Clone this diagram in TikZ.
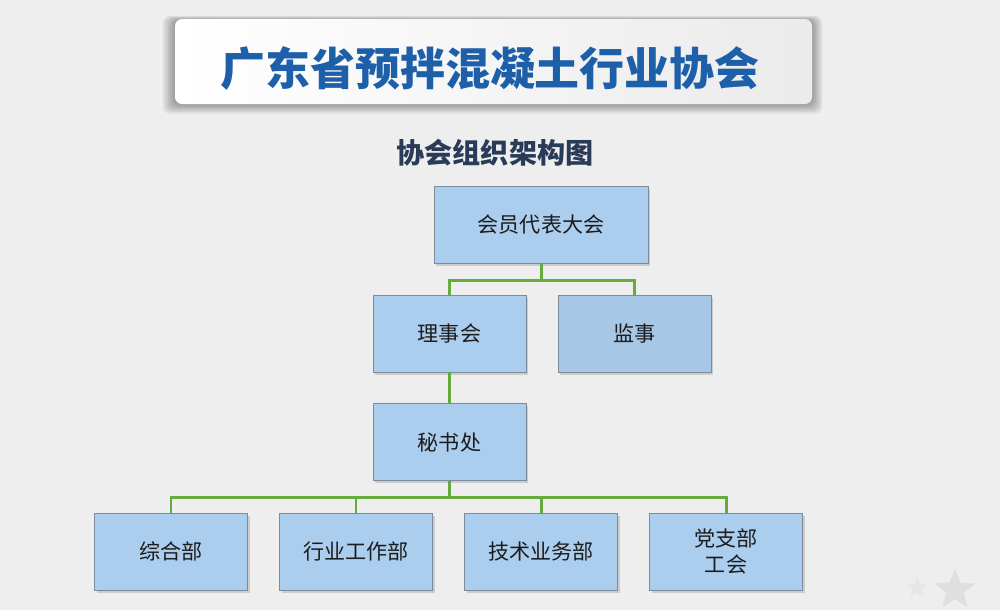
\documentclass[tikz,border=0pt]{standalone}
\usepackage{fontspec}
\newfontfamily\cjk{Noto Sans CJK SC}
\usetikzlibrary{positioning,shadows,shapes.geometric}
\definecolor{orgBg}{HTML}{EEEEEE}
\definecolor{orgBlue}{HTML}{1E5FAA}
\definecolor{orgSlate}{HTML}{2A3B57}
\definecolor{orgBox}{HTML}{ABCDEE}
\definecolor{orgBoxDim}{HTML}{A7C7E7}
\definecolor{orgEdge}{HTML}{7D8A99}
\definecolor{orgGreen}{HTML}{67AB3E}
\definecolor{orgInk}{HTML}{1C1C1C}
\tikzset{
  unit/.style     ={draw=orgEdge,line width=0.5pt,fill=orgBox,text=orgInk,
                    font=\cjk\fontsize{12}{15}\selectfont,align=center,
                    drop shadow={shadow xshift=1.2pt,shadow yshift=-1.5pt,opacity=0.3}},
  topunit/.style  ={unit,minimum width=4.28cm,minimum height=1.54cm},
  subunit/.style  ={unit,minimum width=3.06cm,minimum height=1.54cm},
  link/.style     ={orgGreen,line width=1.7pt},
  banner/.style   ={rounded corners=4pt},
  ttl/.style      ={font=\cjk\bfseries\fontsize{25.6}{30}\selectfont,text=orgBlue},
  subttl/.style   ={font=\cjk\bfseries\fontsize{16}{20}\selectfont,text=orgSlate},
  deco/.style     ={star,star points=5,star point ratio=2.3,fill=gray!30,
                    opacity=0.7,inner sep=0pt},
}

\begin{document}
\begin{tikzpicture}[x=0.02cm,y=-0.02cm]
\useasboundingbox (0,0) rectangle (1000,610);
\fill[orgBg] (0,0) rectangle (1000,610);

% title banner
\foreach \k in {1,...,5}
  \fill[banner,black,opacity=0.07] (175-\k*2.4,20-\k*0.8) rectangle (812+\k*2,104+\k*1.9);
\shade[banner,left color=white,right color=gray!16] (175,19) rectangle (812,104);
\node[ttl] (title) at (490,68) {广东省预拌混凝土行业协会};
\node[subttl] (subttl) at (495,153) {协会组织架构图};

% boxes
\node[topunit] (dbdh) at (541,224.5) {会员代表大会};
\node[subunit] (lsh) at (449.5,333.5) {理事会};
\node[subunit,fill=orgBoxDim] (js) at (634.5,333.5) {监事};
\node[subunit] (msc) at (449.5,442) {秘书处};
\foreach \x/\n/\t in {171/zhb/综合部, 356/hygzb/行业工作部, 541/jsywb/技术业务部, 726/dzb/{党支部\\工会}}
  \node[subunit] (\n) at (\x,551.5) {\t};

% connectors
\draw[link] (dbdh.south) -- ++(0,17) -| (lsh.north);
\draw[link] (dbdh.south) -- ++(0,17) -| (js.north);
\draw[link] (lsh.south) -- (msc.north);
\foreach \n in {zhb,hygzb,jsywb,dzb}
  \draw[link] (msc.south) -- ++(0,16.5) -| (\n.north);

% faint stars
\node[deco,minimum size=0.85cm] (starA) at (955,590) {};
\node[deco,minimum size=0.45cm,opacity=0.35] (starB) at (917,588) {};
\end{tikzpicture}
\end{document}
